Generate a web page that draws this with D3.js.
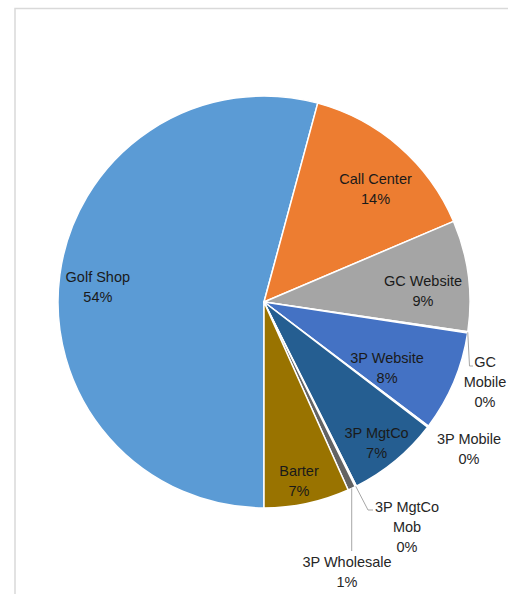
<!DOCTYPE html>
<html>
<head>
<meta charset="utf-8">
<script src="https://cdn.jsdelivr.net/npm/d3@7"></script>
<style>
  html, body { margin: 0; padding: 0; background: #fff; }
  svg { display: block; }
</style>
</head>
<body>
<svg id="chart" width="508" height="594"></svg>
<script>
// ---- DATA ----
const categories = ["Golf Shop", "Call Center", "GC Website", "GC Mobile", "3P Website",
                    "3P Mobile", "3P MgtCo", "3P MgtCo Mob", "3P Wholesale", "Barter"];
const values = [54.2, 14.4, 8.7, 0.1, 7.9, 0.1, 7.2, 0.1, 0.6, 6.7];
const colors = ["#5B9BD5", "#ED7D31", "#A5A5A5", "#FFC000", "#4472C4",
                "#70AD47", "#255E91", "#9E480E", "#636363", "#997300"];

// ---- LAYOUT ----
const W = 508, H = 594;
const cx = 264, cy = 302, R = 206;
const deg = Math.PI / 180;
const lineH = 20;

// inside labels: [radius fraction, angle offset in degrees]
const insidePlacement = {
  "Golf Shop": [0.81, -2.3],
  "Call Center": [0.772, 3.5],
  "GC Website": [0.774, 3.3],
  "3P Website": [0.679, 5.5],
  "3P MgtCo": [0.876, 1.0],
  "Barter": [0.885, 1.0]
};
// outside labels: label block centre x, first line y, lines, leader path builder
const outsidePlacement = {
  "GC Mobile": { x: 485, y: 362, lines: ["GC", "Mobile"], leader: p => [p, [469.5, 366], [473, 366]] },
  "3P Mobile": { x: 469, y: 439, lines: ["3P Mobile"], leader: null },
  "3P MgtCo Mob": { x: 407, y: 507, lines: ["3P MgtCo", "Mob"], leader: p => [p, [368, 510], [373, 510]] },
  "3P Wholesale": { x: 347, y: 562, lines: ["3P Wholesale"], leader: p => [p, [p[0], 551]] }
};

const svg = d3.select("#chart");
svg.append("rect").attr("width", W).attr("height", H).attr("fill", "#fff");

// chart border
svg.append("rect")
  .attr("x", 15).attr("y", 8.5).attr("width", 520).attr("height", 620)
  .attr("fill", "none").attr("stroke", "#D9D9D9").attr("stroke-width", 1.5);

const data = categories.map((c, i) => ({ name: c, value: values[i], color: colors[i] }));
const total = d3.sum(values);

const pie = d3.pie().value(d => d.value).sort(null)
  .startAngle(Math.PI).endAngle(3 * Math.PI);
const arcs = pie(data);
const arc = d3.arc().innerRadius(0).outerRadius(R);

const g = svg.append("g").attr("transform", `translate(${cx},${cy})`);

g.selectAll("path.slice").data(arcs).enter().append("path")
  .attr("class", "slice")
  .attr("d", arc)
  .attr("fill", d => d.data.color)
  .attr("stroke", "#fff")
  .attr("stroke-width", 1.5)
  .attr("stroke-linejoin", "round");

const fmt = v => Math.round(v / total * 100) + "%";
const font = "'Liberation Sans', Arial, sans-serif";
const fs = 14.5;

function drawText(x, yFirst, lines, color) {
  const t = svg.append("text")
    .attr("font-family", font).attr("font-size", fs)
    .attr("fill", color).attr("text-anchor", "middle");
  lines.forEach((ln, i) => {
    t.append("tspan").attr("x", x).attr("y", yFirst + i * lineH)
      .attr("dominant-baseline", "central").text(ln);
  });
}

arcs.forEach(a => {
  const name = a.data.name;
  const mid = (a.startAngle + a.endAngle) / 2;
  if (insidePlacement[name]) {
    const [f, off] = insidePlacement[name];
    const ang = mid + off * deg;
    const x = cx + Math.sin(ang) * R * f;
    const y = cy - Math.cos(ang) * R * f;
    drawText(x, y - lineH / 2, [name, fmt(a.data.value)], "#1a1a1a");
  } else if (outsidePlacement[name]) {
    const o = outsidePlacement[name];
    if (o.leader) {
      const p = [cx + Math.sin(mid) * R, cy - Math.cos(mid) * R];
      svg.append("path")
        .attr("d", d3.line()(o.leader(p)))
        .attr("fill", "none").attr("stroke", "#A6A6A6").attr("stroke-width", 1);
    }
    drawText(o.x, o.y, o.lines.concat([fmt(a.data.value)]), "#262626");
  }
});
</script>
</body>
</html>
